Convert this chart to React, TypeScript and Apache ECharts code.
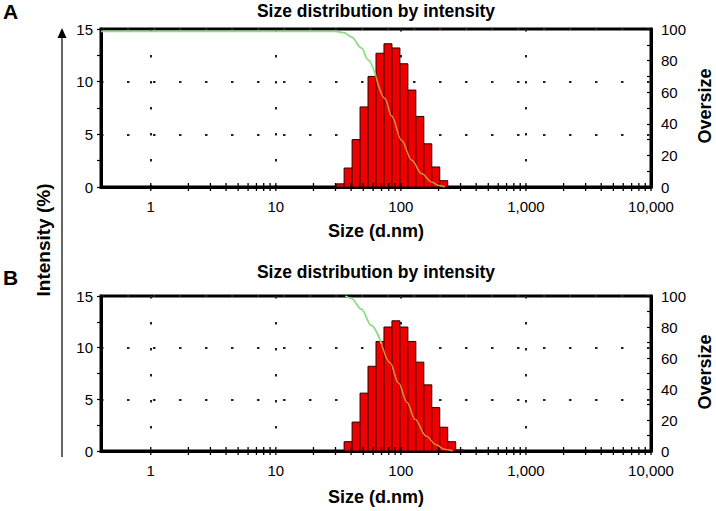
import React, { useEffect, useRef } from 'react';
import * as echarts from 'echarts';

const FONT = '"Liberation Sans", Arial, Helvetica, sans-serif';

// ---- texts ----
const panelLabels = ['A', 'B'];
const titleText = 'Size distribution by intensity';
const xAxisName = 'Size (d.nm)';
const leftAxisName = 'Intensity (%)';
const rightAxisName = 'Oversize';

// ---- axis ticks ----
const xTickValues = [1, 10, 100, 1000, 10000];
const xTickLabels = ['1', '10', '100', '1,000', '10,000'];
const xTickMultipliers = [1, 2, 3, 4, 5, 6, 7, 8, 9];
const xTickDecades = [1, 10, 100, 1000];

// Malvern size-class ratio (70 classes from 0.4 to 10000 nm)
const binRatio = 1.1581;

// ---- panel A ----
const sizesA = [32.67, 37.84, 43.82, 50.75, 58.77, 68.06, 78.82, 91.28, 105.7, 122.4, 141.8, 164.2, 190.1, 220.2];
const intensityA = [0.3, 1.8, 4.5, 7.6, 10.5, 12.7, 13.6, 13.2, 11.7, 9.2, 6.7, 4.1, 1.9, 0.6];
const oversizeSizesA = [0.4, 30, 35.5, 40.1, 48.4, 54.6, 62.6, 74.6, 84.2, 101.3, 122, 146.4, 176, 200, 225];
const oversizeA = [98.5, 98.5, 97.5, 95, 88, 80.5, 71, 56, 45, 29.5, 17, 8.5, 3.2, 1, 0];
const crossIndexA = 6; // point where the curve enters the bars

// ---- panel B ----
const sizesB = [37.84, 43.82, 50.75, 58.77, 68.06, 78.82, 91.28, 105.7, 122.4, 141.8, 164.2, 190.1, 220.2, 255.0, 295.3];
const intensityB = [0.9, 2.8, 5.6, 8.2, 10.6, 12.0, 12.6, 12.0, 10.6, 8.6, 6.4, 4.2, 2.3, 0.9, 0.1];
const oversizeSizesB = [36, 40.1, 48.4, 58.0, 70.1, 81.9, 95.5, 111.7, 129.8, 158.9, 191.6, 223, 260];
const oversizeB = [100, 98.5, 91.5, 81, 69, 57, 44, 31.5, 20.5, 9.7, 4, 1.1, 0];
const crossIndexB = 4;

const panels = [
  { label: panelLabels[0], top: 29, height: 158, sizes: sizesA, intensity: intensityA, oSizes: oversizeSizesA, oVals: oversizeA, cross: crossIndexA, titleY: 11, labelY: 11, nameY: 231, rightNameY: 106 },
  { label: panelLabels[1], top: 296, height: 155, sizes: sizesB, intensity: intensityB, oSizes: oversizeSizesB, oVals: oversizeB, cross: crossIndexB, titleY: 272, labelY: 277, nameY: 497, rightNameY: 372 },
];

const GRID_LEFT = 101;
const GRID_WIDTH = 550;
const gridDots = { type: [2.5, 23.5] as any, color: '#222', width: 2 };
const GREEN = '#8fdc86';
const ORANGE = '#cf8f3a';

function buildOption() {
  const allXTicks: number[] = [];
  xTickDecades.forEach((d) => xTickMultipliers.forEach((m) => allXTicks.push(d * m)));
  allXTicks.push(10000);

  const grid: any[] = [];
  const xAxis: any[] = [];
  const yAxis: any[] = [];
  const series: any[] = [];
  const graphic: any[] = [];

  panels.forEach((p, i) => {
    grid.push({
      left: GRID_LEFT, width: GRID_WIDTH, top: p.top, height: p.height,
      show: true, borderColor: '#000', borderWidth: 3, backgroundColor: 'transparent',
    });
    xAxis.push({
      type: 'log', logBase: 10, gridIndex: i, min: 0.4, max: 10000,
      axisLine: { show: true, onZero: false, lineStyle: { color: '#000', width: 3 } },
      axisTick: { show: false },
      axisLabel: {
        color: '#000', fontSize: 15, fontFamily: FONT, margin: 12,
        formatter: (v: number) => {
          const idx = xTickValues.findIndex((t) => Math.abs(t - v) / t < 1e-6);
          return idx >= 0 ? xTickLabels[idx] : '';
        },
      },
      splitLine: { show: true, lineStyle: gridDots },
    });
    yAxis.push({
      type: 'value', gridIndex: i, position: 'left', min: 0, max: 15, interval: 5,
      axisLine: { show: true, onZero: false, lineStyle: { color: '#000', width: 3 } },
      axisTick: { show: true, length: 4, lineStyle: { color: '#000', width: 1.2 } },
      minorTick: { show: true, splitNumber: 2, length: 4, lineStyle: { color: '#000', width: 1.2 } },
      axisLabel: { color: '#000', fontSize: 15, fontFamily: FONT, margin: 8 },
      splitLine: { show: true, lineStyle: gridDots },
    });
    yAxis.push({
      type: 'value', gridIndex: i, position: 'right', min: 0, max: 100, interval: 20,
      axisLine: { show: true, onZero: false, lineStyle: { color: '#000', width: 3 } },
      axisTick: { show: true, inside: true, length: 4, lineStyle: { color: '#000', width: 1.2 } },
      minorTick: { show: true, splitNumber: 2, length: 4, lineStyle: { color: '#000', width: 1.2 } },
      axisLabel: { color: '#000', fontSize: 15, fontFamily: FONT, margin: 10 },
      splitLine: { show: false },
    });

    // histogram bars
    series.push({
      type: 'custom', xAxisIndex: i, yAxisIndex: 2 * i, z: 3,
      data: p.sizes.map((s, k) => [s, p.intensity[k]]),
      encode: { x: 0, y: 1 },
      renderItem: (_params: any, api: any) => {
        const s = api.value(0);
        const h = api.value(1);
        const half = Math.sqrt(binRatio);
        const a = api.coord([s / half, h]);
        const b = api.coord([s * half, 0]);
        return {
          type: 'rect',
          shape: { x: a[0], y: a[1], width: b[0] - a[0], height: b[1] - a[1] },
          style: { fill: '#ec0000', stroke: '#2a0000', lineWidth: 1 },
        };
      },
    });
    // x axis tick marks (log minor ticks)
    series.push({
      type: 'custom', xAxisIndex: i, yAxisIndex: 2 * i, z: 4, clip: false,
      data: allXTicks.map((v) => [v, 0]),
      encode: { x: 0, y: 1 },
      renderItem: (_params: any, api: any) => {
        const c = api.coord([api.value(0), 0]);
        return {
          type: 'line',
          shape: { x1: c[0], y1: c[1] - 4, x2: c[0], y2: c[1] + 4 },
          style: { stroke: '#000', lineWidth: 1.3 },
        };
      },
    });
    // oversize curve: part above the bars (green) and part across the bars (orange)
    const pts = p.oSizes.map((s, k) => [s, p.oVals[k]]);
    series.push({
      type: 'line', xAxisIndex: i, yAxisIndex: 2 * i + 1, z: 5,
      data: pts.slice(0, p.cross + 1),
      smooth: 0.35, smoothMonotone: 'x', showSymbol: false, symbol: 'none',
      lineStyle: { width: 1.8, color: GREEN },
    });
    series.push({
      type: 'line', xAxisIndex: i, yAxisIndex: 2 * i + 1, z: 5,
      data: pts.slice(p.cross),
      smooth: 0.35, smoothMonotone: 'x', showSymbol: false, symbol: 'none',
      lineStyle: { width: 1.6, color: ORANGE },
    });

    graphic.push(
      { type: 'text', x: 3, y: p.labelY, style: { text: p.label, fill: '#000', font: `bold 21px ${FONT}`, align: 'left', verticalAlign: 'middle' } },
      { type: 'text', x: GRID_LEFT + GRID_WIDTH / 2, y: p.titleY, style: { text: titleText, fill: '#000', font: `bold 17.5px ${FONT}`, align: 'center', verticalAlign: 'middle' } },
      { type: 'text', x: GRID_LEFT + GRID_WIDTH / 2, y: p.nameY, style: { text: xAxisName, fill: '#000', font: `bold 18px ${FONT}`, align: 'center', verticalAlign: 'middle' } },
      { type: 'text', x: 705, y: p.rightNameY, rotation: Math.PI / 2, style: { text: rightAxisName, fill: '#000', font: `bold 18px ${FONT}`, align: 'center', verticalAlign: 'middle' } },
    );
  });

  graphic.push(
    { type: 'text', x: 43, y: 240, rotation: Math.PI / 2, style: { text: leftAxisName, fill: '#000', font: `bold 19px ${FONT}`, align: 'center', verticalAlign: 'middle' } },
    { type: 'line', shape: { x1: 62, y1: 36, x2: 62, y2: 457 }, style: { stroke: '#000', lineWidth: 1.2 } },
    { type: 'polygon', shape: { points: [[62, 28], [57.5, 38], [66.5, 38]] }, style: { fill: '#000' } },
  );

  return {
    animation: false,
    backgroundColor: '#fff',
    textStyle: { fontFamily: FONT },
    grid, xAxis, yAxis, series, graphic,
  };
}

export default function App() {
  const ref = useRef<HTMLDivElement>(null);
  useEffect(() => {
    if (!ref.current) return;
    const chart = echarts.init(ref.current, undefined, { renderer: 'svg' });
    chart.setOption(buildOption() as any);
    return () => chart.dispose();
  }, []);
  return <div ref={ref} style={{ position: 'fixed', left: 0, top: 0, width: 716, height: 511 }} />;
}
